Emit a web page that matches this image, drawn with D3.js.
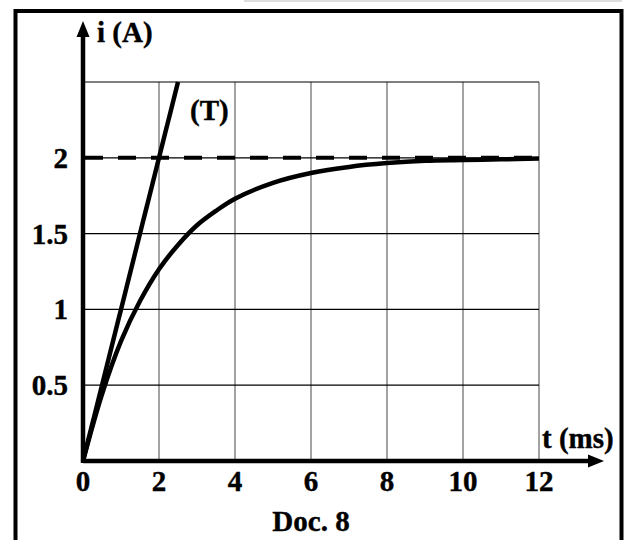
<!DOCTYPE html>
<html><head><meta charset="utf-8">
<script src="https://cdn.jsdelivr.net/npm/d3@7"></script>
<style>body{margin:0;background:#fff}svg{display:block}text{font-family:"Liberation Serif","Times New Roman",serif;font-weight:bold;fill:#000;stroke:#000;stroke-width:0.4px}</style>
</head><body>
<script>
// Data
const timeMs = [0, 0.5, 1, 1.5, 2, 2.5, 3, 3.5, 4, 5, 6, 7, 8, 9, 10, 11, 12];
const currentA = [0, 0.44, 0.79, 1.055, 1.265, 1.425, 1.555, 1.65, 1.73, 1.835, 1.90, 1.94, 1.965, 1.98, 1.985, 1.99, 1.995];
const tangentT = [0, 2.5];
const tangentI = [0, 2.5];
const asymptote = 2;
const xTicks = [0, 2, 4, 6, 8, 10, 12];
const yTicks = [0.5, 1, 1.5, 2];
const yTickLabels = ["0.5", "1", "1.5", "2"];
const xLabel = "t (ms)", yLabel = "i (A)", tangentLabel = "(T)", caption = "Doc. 8";

const W = 627, H = 540;
const svg = d3.select("body").append("svg").attr("width", W).attr("height", H);

const x = d3.scaleLinear().domain([0, 12]).range([83, 539]);
const y = d3.scaleLinear().domain([0, 2.5]).range([461, 82]);

// light top strip
svg.append("line").attr("x1", 244).attr("x2", 622).attr("y1", 1).attr("y2", 1)
  .attr("stroke", "#ddd").attr("stroke-width", 2);
// frame
svg.append("rect").attr("x", 15.5).attr("y", 11).attr("width", 606).attr("height", 545)
  .attr("fill", "none").attr("stroke", "#000").attr("stroke-width", 4);

// grid
const g = svg.append("g");
g.selectAll(".vg").data(xTicks.slice(1)).join("line")
  .attr("x1", d => x(d)).attr("x2", d => x(d)).attr("y1", y(2.5)).attr("y2", y(0))
  .attr("stroke", "#666").attr("stroke-width", 1.2);
g.selectAll(".hg").data(yTicks.concat([2.5])).join("line")
  .attr("x1", x(0)).attr("x2", x(12)).attr("y1", d => y(d)).attr("y2", d => y(d))
  .attr("stroke", "#000").attr("stroke-width", 1.2);

// asymptote dashed
svg.append("line").attr("x1", x(0) + 2).attr("x2", x(12)).attr("y1", y(asymptote)).attr("y2", y(asymptote))
  .attr("stroke", "#000").attr("stroke-width", 4).attr("stroke-dasharray", "18,15");

// curve
const line = d3.line().x((d, i) => x(timeMs[i])).y(d => y(d)).curve(d3.curveCatmullRom.alpha(0.5));
svg.append("path").attr("d", line(currentA)).attr("fill", "none").attr("stroke", "#000").attr("stroke-width", 4.5);

// tangent
const tline = d3.line().x((d, i) => x(tangentT[i])).y(d => y(d));
svg.append("path").attr("d", tline(tangentI)).attr("fill", "none").attr("stroke", "#000").attr("stroke-width", 4.5);

// axes
svg.append("line").attr("x1", x(0)).attr("x2", 592).attr("y1", y(0)).attr("y2", y(0))
  .attr("stroke", "#000").attr("stroke-width", 4.5);
svg.append("path").attr("d", `M604,${y(0)} L588,${y(0) - 6.5} L588,${y(0) + 6.5} Z`).attr("fill", "#000");
svg.append("line").attr("x1", x(0)).attr("x2", x(0)).attr("y1", y(0) + 2).attr("y2", 32)
  .attr("stroke", "#000").attr("stroke-width", 4.5);
svg.append("path").attr("d", `M${x(0)},21 L${x(0) - 6.5},37 L${x(0) + 6.5},37 Z`).attr("fill", "#000");

// tick labels
const fs = 29;
svg.selectAll(".xl").data(xTicks).join("text")
  .attr("x", d => x(d)).attr("y", 491).attr("text-anchor", "middle").attr("font-size", fs).text(d => d);
svg.selectAll(".yl").data(yTicks).join("text")
  .attr("x", 68).attr("y", d => y(d) + 10).attr("text-anchor", "end").attr("font-size", fs)
  .text((d, i) => yTickLabels[i]);

svg.append("text").attr("x", 97).attr("y", 42).attr("font-size", fs).text(yLabel);
svg.append("text").attr("x", 542).attr("y", 448).attr("font-size", fs).text(xLabel);
svg.append("text").attr("x", 190).attr("y", 120).attr("font-size", fs).text(tangentLabel);
svg.append("text").attr("x", 311).attr("y", 531).attr("text-anchor", "middle").attr("font-size", fs).text(caption);
</script>
</body></html>
